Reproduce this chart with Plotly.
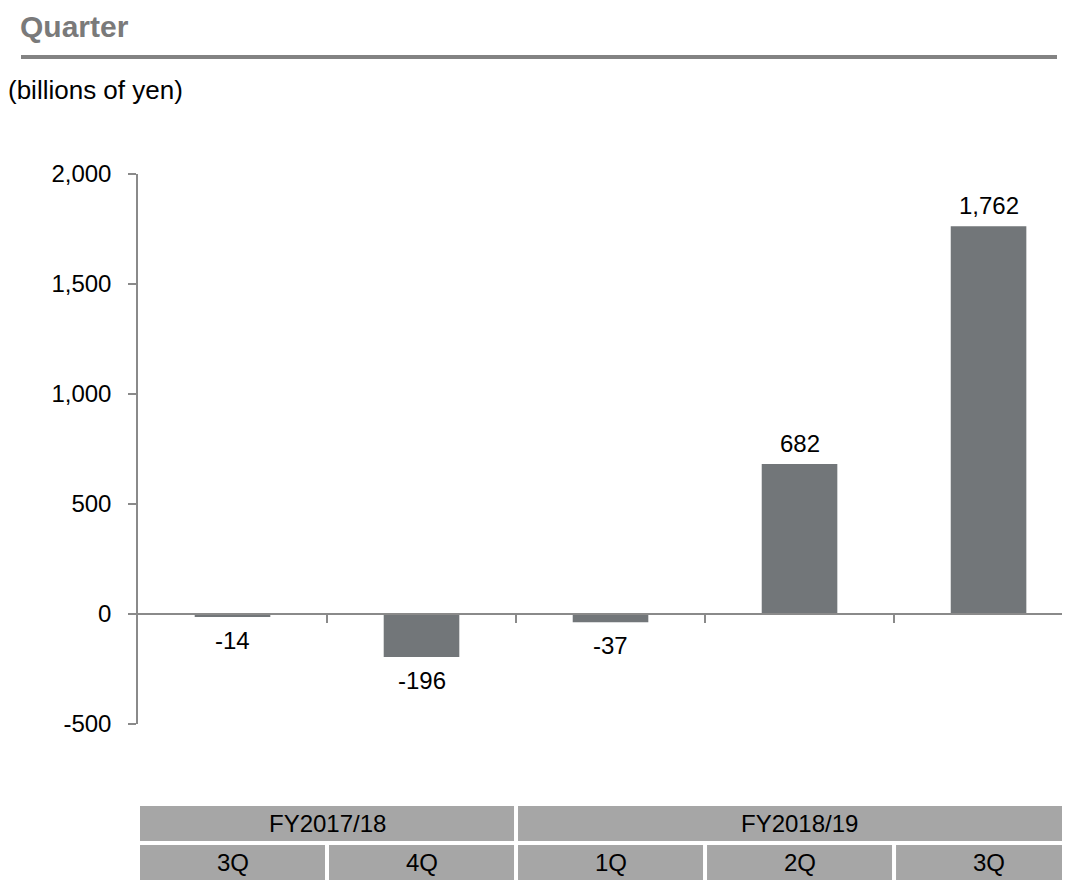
import plotly.graph_objects as go

# ---- data ----
quarters = ["3Q", "4Q", "1Q", "2Q", "3Q"]
values = [-14, -196, -37, 682, 1762]
fiscal_years = ["FY2017/18", "FY2018/19"]
fy_spans = [2, 3]
y_tick_vals = [-500, 0, 500, 1000, 1500, 2000]
y_tick_text = ["-500", "0", "500", "1,000", "1,500", "2,000"]
title_text = "Quarter"
unit_text = "(billions of yen)"

# ---- layout constants (figure sits 8px in from the page corner) ----
W, H = 1062, 872
ML, MR, MT, MB = 130, 0, 166, 156
FONT = "Liberation Sans, Arial, sans-serif"
BAR_COLOR = "#727679"
AXIS_COLOR = "#8a8a8a"
CELL_COLOR = "#a6a6a6"
Y_RANGE = [-500, 2000]
X_RANGE = [-0.5, 4.431]
FS = 24

PW = W - ML - MR
PH = H - MT - MB


def px_x(p):
    return (p - ML) / PW


def px_y(p):
    return (H - MB - p) / PH


n = len(values)
xs = list(range(n))

fig = go.Figure()
fig.add_trace(go.Bar(
    x=xs, y=values, width=0.4,
    marker=dict(color=BAR_COLOR, line=dict(width=0)),
    hoverinfo="skip", showlegend=False,
))

annotations = []
for x, v in zip(xs, values):
    annotations.append(dict(
        x=x, y=v, xref="x", yref="y", text=f"{v:,}", showarrow=False,
        yanchor="bottom" if v >= 0 else "top",
        yshift=5 if v >= 0 else -8,
        font=dict(family=FONT, size=FS, color="#000000"),
    ))

shapes = []
annotations.append(dict(
    x=px_x(10), y=px_y(18), xref="paper", yref="paper", text=f"<b>{title_text}</b>",
    showarrow=False, xanchor="left", yanchor="middle",
    font=dict(family=FONT, size=30, color="#7a7a7a"),
))
shapes.append(dict(
    type="line", xref="paper", yref="paper",
    x0=px_x(13), x1=px_x(1049), y0=px_y(49), y1=px_y(49),
    line=dict(color="#838383", width=4),
))
annotations.append(dict(
    x=px_x(-2), y=px_y(82), xref="paper", yref="paper", text=unit_text,
    showarrow=False, xanchor="left", yanchor="middle",
    font=dict(family=FONT, size=26, color="#000000"),
))

# table below chart
g = 0.0106
row1 = (px_y(833), px_y(798))
row2 = (px_y(872), px_y(837))
for i, q in enumerate(quarters):
    shapes.append(dict(
        type="rect", xref="x", yref="paper",
        x0=i - 0.5 + g, x1=i + 0.5 - g, y0=row2[0], y1=row2[1],
        fillcolor=CELL_COLOR, line=dict(width=0), layer="below",
    ))
    annotations.append(dict(
        x=i, y=(row2[0] + row2[1]) / 2, xref="x", yref="paper", text=q,
        showarrow=False, xanchor="center", yanchor="middle",
        font=dict(family=FONT, size=FS, color="#000000"),
    ))
start = 0
for fy, span in zip(fiscal_years, fy_spans):
    shapes.append(dict(
        type="rect", xref="x", yref="paper",
        x0=start - 0.5 + g, x1=start + span - 0.5 - g, y0=row1[0], y1=row1[1],
        fillcolor=CELL_COLOR, line=dict(width=0), layer="below",
    ))
    annotations.append(dict(
        x=start + (span - 1) / 2, y=(row1[0] + row1[1]) / 2, xref="x", yref="paper",
        text=fy, showarrow=False, xanchor="center", yanchor="middle",
        font=dict(family=FONT, size=FS, color="#000000"),
    ))
    start += span

zero_pos = (0 - Y_RANGE[0]) / (Y_RANGE[1] - Y_RANGE[0])

fig.update_layout(
    width=W, height=H,
    margin=dict(l=ML, r=MR, t=MT, b=MB, pad=0),
    paper_bgcolor="white", plot_bgcolor="white",
    font=dict(family=FONT, size=FS, color="#000000"),
    xaxis=dict(
        range=X_RANGE, showgrid=False, zeroline=False,
        anchor="free", position=zero_pos,
        showline=True, linecolor=AXIS_COLOR, linewidth=1.5,
        ticks="outside", ticklen=8, tickwidth=1.5, tickcolor=AXIS_COLOR,
        tickvals=[i + 0.5 for i in range(n - 1)], showticklabels=False,
        fixedrange=True,
    ),
    yaxis=dict(
        range=Y_RANGE, showgrid=False, zeroline=False,
        showline=True, linecolor=AXIS_COLOR, linewidth=1.5,
        ticks="outside", ticklen=8, tickwidth=1.5, tickcolor=AXIS_COLOR,
        tickvals=y_tick_vals, ticktext=y_tick_text,
        tickfont=dict(family=FONT, size=FS, color="#000000"),
        ticklabelstandoff=12,
        fixedrange=True,
    ),
    annotations=annotations,
    shapes=shapes,
    showlegend=False,
)

fig.write_html("out.html", config={"displayModeBar": False})
